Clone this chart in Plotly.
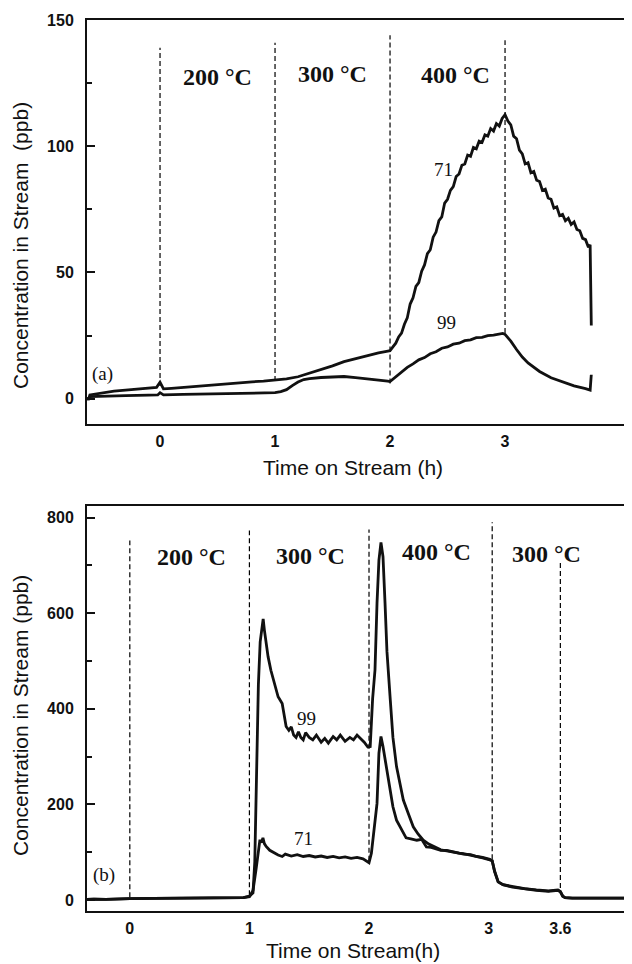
import plotly.graph_objects as go

# ---------------- Panel (a) data ----------------
a71_x = [-0.635, -0.62, -0.61, -0.55, -0.5, -0.45, -0.4, -0.3, -0.2, -0.1, -0.03, 0.0, 0.03,
         0.1, 0.2, 0.3, 0.4, 0.5, 0.6, 0.7, 0.8, 0.9, 1.0, 1.1, 1.2, 1.3, 1.4, 1.5, 1.6, 1.7,
         1.8, 1.9, 1.97,
         2.000, 2.025, 2.050, 2.075, 2.100, 2.125, 2.150, 2.175, 2.200, 2.225, 2.250, 2.275,
         2.300, 2.325, 2.350, 2.375, 2.400, 2.425, 2.450, 2.475, 2.500, 2.525, 2.550, 2.575,
         2.600, 2.625, 2.650, 2.675, 2.700, 2.725, 2.750, 2.775, 2.800, 2.825, 2.850, 2.875,
         2.900, 2.925, 2.950, 2.975, 3.000, 3.025, 3.050, 3.075, 3.100, 3.125, 3.150, 3.175,
         3.200, 3.225, 3.250, 3.275, 3.300, 3.325, 3.350, 3.375, 3.400, 3.425, 3.450, 3.475,
         3.500, 3.525, 3.550, 3.575, 3.600, 3.625, 3.650, 3.675, 3.700, 3.725, 3.740, 3.745,
         3.750]
a71_y = [0, 0, 1.5, 1.9, 2.3, 2.7, 3.0, 3.4, 3.7, 4.1, 4.5, 6.5, 3.9,
         4.1, 4.5, 4.9, 5.3, 5.6, 6.0, 6.4, 6.7, 7.0, 7.4, 7.9, 8.7, 10.1, 11.6, 13.0, 14.7, 15.9,
         17.2, 18.2, 18.8,
         19.0, 20.5, 22.0, 24.5, 26.0, 29.5, 32.0, 37.5, 40.0, 44.5, 46.0, 50.5,
         53.0, 57.5, 59.0, 64.0, 66.0, 70.5, 72.0, 77.5, 79.0, 82.5, 84.0, 88.0,
         89.0, 92.5, 93.0, 96.5, 96.0, 99.5, 99.0, 102.0, 101.5, 104.5, 104.0, 107.0,
         106.0, 109.0, 108.0, 111.0, 112.5, 110.0, 108.5, 104.0, 103.0, 98.5, 97.0, 93.0,
         93.5, 89.5, 90.0, 86.5, 86.0, 82.5, 83.0, 79.5, 79.0, 75.5, 76.0, 72.5,
         73.0, 70.5, 71.5, 69.0, 70.0, 67.0, 66.5, 63.5, 63.0, 60.0, 61.0, 45.0,
         29.0]

a99_x = [-0.635, -0.62, -0.61, -0.5, -0.3, -0.1, -0.02, 0.0, 0.03, 0.2, 0.4, 0.6, 0.8, 1.0,
         1.05, 1.1, 1.15, 1.2, 1.25, 1.3, 1.4, 1.5, 1.6, 1.7, 1.8, 1.9, 1.98, 2.0, 2.05, 2.1,
         2.15, 2.2, 2.25, 2.3, 2.35, 2.4, 2.45, 2.5, 2.55, 2.6, 2.65, 2.7, 2.75, 2.8, 2.85, 2.9,
         2.95, 2.98, 3.0, 3.05, 3.1, 3.15, 3.2, 3.3, 3.4, 3.5, 3.6, 3.7, 3.74, 3.745, 3.75]
a99_y = [0, 0, 0.8, 1.0, 1.2, 1.4, 1.5, 2.4, 1.5, 1.7, 1.9, 2.1, 2.2, 2.4,
         2.8, 3.6, 5.2, 6.6, 7.6, 8.0, 8.4, 8.7, 8.8, 8.4, 8.0, 7.6, 7.0, 6.8, 8.6, 10.6,
         12.4, 13.8, 15.4, 16.3, 17.8, 18.6, 20.0, 20.5, 21.6, 22.0, 23.0, 23.3, 24.2, 24.3, 25.0, 25.2,
         25.6, 25.9, 25.5, 22.8, 19.5, 16.5, 14.2, 10.8, 8.3, 6.6, 5.1, 4.0, 3.4, 6.5, 9.5]

a_marks_x = [0, 1, 2, 3]
a_marks_top = [139, 141, 144, 142]
a_marks_bottom = [5, 7, 6, 26]
a_ticks = [0, 50, 100, 150]
a_minor = [25, 75, 125]
a_xticks = [0, 1, 2, 3]

# ---------------- Panel (b) data ----------------
b99_x = [-0.36, -0.3, -0.2, -0.1, 0.0, 0.2, 0.4, 0.6, 0.8, 0.95, 1.0, 1.03, 1.045, 1.06, 1.075,
         1.09, 1.105, 1.115, 1.125, 1.135, 1.156, 1.18, 1.207, 1.24, 1.274, 1.29, 1.307, 1.33,
         1.35, 1.37, 1.39, 1.41, 1.43, 1.45, 1.47, 1.5, 1.53, 1.56, 1.6, 1.63, 1.66, 1.7, 1.73,
         1.76, 1.8, 1.84, 1.87, 1.9, 1.93, 1.96, 1.99, 2.01, 2.03, 2.05, 2.067, 2.083, 2.1,
         2.117, 2.134, 2.15, 2.178, 2.2, 2.23, 2.26, 2.287, 2.33, 2.37, 2.41, 2.454, 2.5, 2.566,
         2.6, 2.65, 2.7, 2.75, 2.79, 2.85, 2.9, 2.95, 3.01, 3.03, 3.05, 3.08, 3.12, 3.2, 3.3,
         3.4, 3.5, 3.58, 3.6, 3.62, 3.64, 3.7, 3.8, 4.0, 4.2]
b99_y = [1, 2, 1.5, 2.5, 3, 3.5, 4, 4, 4.5, 5, 8, 15, 80, 280, 450,
         540, 570, 588, 565, 545, 509, 480, 453, 425, 411, 390, 363, 355,
         362, 345, 340, 352, 340, 335, 350, 340, 335, 345, 330, 338, 328, 342, 335,
         345, 332, 340, 335, 345, 338, 330, 320, 321, 420, 481, 621, 711, 748,
         718, 621, 520, 418, 340, 279, 240, 209, 180, 153, 138, 125, 117, 108,
         105, 103, 100, 98, 97, 94, 90, 88, 84, 82, 60, 38, 32, 28, 24,
         21, 19, 21, 18, 8, 5, 4, 4, 3.5, 4]

b71_x = [-0.36, -0.3, -0.2, -0.1, 0.0, 0.2, 0.4, 0.6, 0.8, 0.95, 1.0, 1.03, 1.055, 1.075,
         1.088, 1.1, 1.113, 1.125, 1.14, 1.17, 1.207, 1.24, 1.274, 1.3, 1.35, 1.4, 1.45, 1.5,
         1.55, 1.6, 1.65, 1.7, 1.75, 1.8, 1.85, 1.9, 1.95, 2.0, 2.02, 2.045, 2.067, 2.083, 2.1,
         2.117, 2.15, 2.178, 2.2, 2.23, 2.27, 2.31, 2.35, 2.4, 2.44, 2.48, 2.52, 2.566, 2.6,
         2.65, 2.7, 2.75, 2.79, 2.85, 2.9, 2.95, 3.01, 3.03, 3.05, 3.08, 3.12, 3.2, 3.3, 3.4,
         3.5, 3.58, 3.6, 3.62, 3.64, 3.7, 3.8, 4.0, 4.2]
b71_y = [1, 2, 1.5, 2.5, 3, 3.5, 4, 4, 4.5, 5, 7, 20, 63, 105,
         126, 120, 130, 118, 112, 104, 98, 94, 91, 96, 92, 95, 91, 93,
         90, 92, 89, 91, 88, 90, 87, 89, 86, 78, 98, 150, 202, 307, 342,
         321, 272, 230, 195, 167, 148, 130, 128, 125, 127, 111, 110, 106, 104,
         104, 101, 99, 96, 95, 91, 89, 85, 82, 60, 38, 32, 27, 23,
         20, 18, 20, 17, 8, 5, 4, 4, 3.5, 4]

b_marks_x = [0, 1.0, 2.0, 3.03, 3.6]
b_marks_top = [752, 773, 775, 790, 705]
b_marks_bottom = [6, 10, 82, 85, 25]
b_ticks = [0, 200, 400, 600, 800]
b_minor = [100, 300, 500, 700]
b_xticks = [0, 1, 2, 3, 3.6]
b_xticklabels = ["0", "1", "2", "3", "3.6"]

# ---------------- Labels ----------------
a_temp_labels = ["200 °C", "300 °C", "400 °C"]
a_temp_x = [0.50, 1.50, 2.57]
a_temp_y = [127.4, 128.5, 128.1]
b_temp_labels = ["200 °C", "300 °C", "400 °C", "300 °C"]
b_temp_x = [0.516, 1.51, 2.566, 3.483]
b_temp_y = [717, 720, 727, 724]

BLACK = "#111111"
LINE_W = 2.8

fig = go.Figure()
for xs, ys in [(a71_x, a71_y), (a99_x, a99_y)]:
    fig.add_trace(go.Scatter(x=xs, y=ys, mode="lines", xaxis="x", yaxis="y",
                             line=dict(color=BLACK, width=LINE_W), showlegend=False,
                             hoverinfo="skip"))
for xs, ys in [(b99_x, b99_y), (b71_x, b71_y)]:
    fig.add_trace(go.Scatter(x=xs, y=ys, mode="lines", xaxis="x2", yaxis="y2",
                             line=dict(color=BLACK, width=LINE_W), showlegend=False,
                             hoverinfo="skip"))

shapes = []
dash_line = dict(color="#000000", width=1.2, dash="5px,3px")
for xv, y0, y1 in zip(a_marks_x, a_marks_bottom, a_marks_top):
    shapes.append(dict(type="line", xref="x", yref="y", x0=xv, x1=xv, y0=y0, y1=y1,
                       line=dash_line, layer="below"))
for xv, y0, y1 in zip(b_marks_x, b_marks_bottom, b_marks_top):
    shapes.append(dict(type="line", xref="x2", yref="y2", x0=xv, x1=xv, y0=y0, y1=y1,
                       line=dash_line, layer="below"))

annotations = []
serif_bold = dict(family="Liberation Serif", size=24, color=BLACK, weight="bold")
for t, xv, yv in zip(a_temp_labels, a_temp_x, a_temp_y):
    annotations.append(dict(text=t, x=xv, y=yv, xref="x", yref="y", showarrow=False,
                            font=serif_bold, xanchor="center", yanchor="middle"))
for t, xv, yv in zip(b_temp_labels, b_temp_x, b_temp_y):
    annotations.append(dict(text=t, x=xv, y=yv, xref="x2", yref="y2", showarrow=False,
                            font=serif_bold, xanchor="center", yanchor="middle"))

serif = dict(family="Liberation Serif", size=19, color=BLACK)
annotations += [
    dict(text="71", x=2.465, y=90.6, xref="x", yref="y", showarrow=False, font=serif),
    dict(text="99", x=2.494, y=30, xref="x", yref="y", showarrow=False, font=serif),
    dict(text="(a)", x=-0.497, y=9.7, xref="x", yref="y", showarrow=False, font=serif),
    dict(text="99", x=1.477, y=380, xref="x2", yref="y2", showarrow=False, font=serif),
    dict(text="71", x=1.45, y=129, xref="x2", yref="y2", showarrow=False, font=serif),
    dict(text="(b)", x=-0.216, y=52, xref="x2", yref="y2", showarrow=False, font=serif),
]

sans = dict(family="Liberation Sans", size=21, color=BLACK)
annotations += [
    dict(text="Concentration in Stream  (ppb)", x=-0.121, y=0.7464, xref="paper", yref="paper",
         textangle=-90, showarrow=False, font=sans, xanchor="center", yanchor="middle"),
    dict(text="Concentration in Stream (ppb)", x=-0.121, y=0.2189, xref="paper", yref="paper",
         textangle=-90, showarrow=False, font=sans, xanchor="center", yanchor="middle"),
    dict(text="Time on Stream (h)", x=0.488, y=0.4972, xref="paper", yref="paper",
         showarrow=False, font=sans, xanchor="center", yanchor="middle"),
    dict(text="Time on Stream(h)", x=0.488, y=-0.044, xref="paper", yref="paper",
         showarrow=False, font=sans, xanchor="center", yanchor="middle"),
]

tickfont = dict(family="Liberation Sans", size=16, color=BLACK, weight="bold")

common_x = dict(showline=True, linewidth=2, linecolor=BLACK, mirror=True, ticks="",
                showgrid=False, zeroline=False, tickfont=tickfont, ticklabelstandoff=2)
common_y = dict(showline=True, linewidth=2, linecolor=BLACK, mirror=False, ticks="inside",
                ticklen=8, tickwidth=2, tickcolor=BLACK, showgrid=False, zeroline=False,
                tickfont=tickfont, ticklabelstandoff=8)

# The page body has an 8px margin, so the figure is 8px narrower/shorter than the window.
fig.update_layout(
    width=624, height=956,
    margin=dict(l=79, r=0, t=12, b=53, autoexpand=False),
    paper_bgcolor="white", plot_bgcolor="white",
    xaxis=dict(domain=[0, 1], anchor="y", range=[-0.635, 4.104], tickvals=a_xticks, **common_x),
    yaxis=dict(domain=[0.5466, 1], anchor="x", range=[-10, 150], tickvals=a_ticks,
               minor=dict(tickvals=a_minor, ticks="inside", ticklen=5, tickwidth=2,
                          tickcolor=BLACK, showgrid=False),
               **common_y),
    xaxis2=dict(domain=[0, 1], anchor="y2", range=[-0.358, 4.199], tickvals=b_xticks,
                ticktext=b_xticklabels, **common_x),
    yaxis2=dict(domain=[0, 0.4545], anchor="x2", range=[-23, 824], tickvals=b_ticks,
                minor=dict(tickvals=b_minor, ticks="inside", ticklen=5, tickwidth=2,
                           tickcolor=BLACK, showgrid=False),
                **common_y),
    shapes=shapes,
    annotations=annotations,
)

fig.write_html("out.html")
